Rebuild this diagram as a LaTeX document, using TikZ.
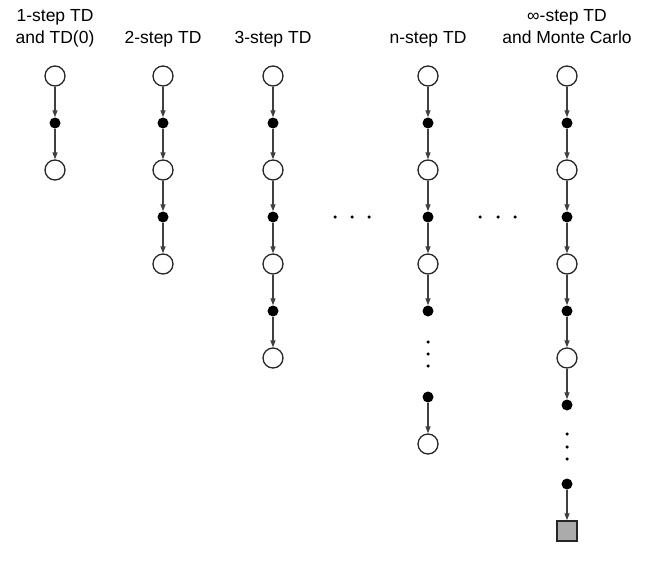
\documentclass[tikz,border=0pt]{standalone}
\usepackage{fontspec}
\setmainfont{Liberation Sans}
\usetikzlibrary{arrows.meta}
\begin{document}
\begin{tikzpicture}[x=1pt,y=-1pt,
  state/.style={circle, draw=black!85, line width=1.3pt, minimum size=20pt, inner sep=0pt, fill=white},
  action/.style={circle, fill=black, minimum size=11pt, inner sep=0pt},
  term/.style={rectangle, draw=black!85, line width=1.5pt, fill=black!33, minimum size=20pt, inner sep=0pt},
  edge/.style={-{Triangle[length=7pt,width=5pt]}, line width=1.3pt, draw=black!75},
  dotty/.style={circle, fill=black, minimum size=3.5pt, inner sep=0pt},
  lbl/.style={font=\fontsize{17.5}{22}\selectfont, align=center, anchor=base, inner sep=0pt}]
\useasboundingbox (0,0) rectangle (652,586);
% labels
\node[lbl] (l1) at (55,44) {1-step TD\\and TD(0)};
\node[lbl] (l2) at (163,44) {2-step TD};
\node[lbl] (l3) at (273,44) {3-step TD};
\node[lbl] (l4) at (428,44) {n-step TD};
\node[lbl] (l5) at (567,44) {∞-step TD\\and Monte Carlo};
% regular columns: x, number of steps
\foreach \c/\x/\n in {1/55/1, 2/163/2, 3/273/3} {
  \node[state] (s\c-0) at (\x,76) {};
  \foreach \i [evaluate=\i as \yy using 76+94*\i, evaluate=\i as \ya using 76+94*\i-47, evaluate=\i as \p using int(\i-1)] in {1,...,\n} {
    \node[action] (a\c-\i) at (\x,\ya) {};
    \node[state] (s\c-\i) at (\x,\yy) {};
    \draw[edge] (s\c-\p) -- (a\c-\i);
    \draw[edge] (a\c-\i) -- (s\c-\i);
  }
}
% n-step column
\node[state] (s4-0) at (428,76) {};
\foreach \i [evaluate=\i as \yy using 76+94*\i, evaluate=\i as \ya using 76+94*\i-47, evaluate=\i as \p using int(\i-1)] in {1,2} {
  \node[action] (a4-\i) at (428,\ya) {};
  \node[state] (s4-\i) at (428,\yy) {};
  \draw[edge] (s4-\p) -- (a4-\i);
  \draw[edge] (a4-\i) -- (s4-\i);
}
\node[action] (a4-3) at (428,311) {};
\draw[edge] (s4-2) -- (a4-3);
\node[dotty] (d4-1) at (428,342) {};
\node[dotty] (d4-2) at (428,354) {};
\node[dotty] (d4-3) at (428,366) {};
\node[action] (a4-n) at (428,397) {};
\node[state] (s4-n) at (428,444) {};
\draw[edge] (a4-n) -- (s4-n);
% infinity column
\node[state] (s5-0) at (567,76) {};
\foreach \i [evaluate=\i as \yy using 76+94*\i, evaluate=\i as \ya using 76+94*\i-47, evaluate=\i as \p using int(\i-1)] in {1,2,3} {
  \node[action] (a5-\i) at (567,\ya) {};
  \node[state] (s5-\i) at (567,\yy) {};
  \draw[edge] (s5-\p) -- (a5-\i);
  \draw[edge] (a5-\i) -- (s5-\i);
}
\node[action] (a5-4) at (567,405) {};
\draw[edge] (s5-3) -- (a5-4);
\node[dotty] (d5-1) at (567,434) {};
\node[dotty] (d5-2) at (567,447) {};
\node[dotty] (d5-3) at (567,459) {};
\node[action] (a5-n) at (567,484) {};
\node[term] (t5) at (567,531) {};
\draw[edge] (a5-n) -- (t5);
% horizontal ellipses
\foreach \k/\x in {1/335, 2/352, 3/369, 4/480, 5/498, 6/515}
  \node[dotty] (h\k) at (\x,217) {};
\end{tikzpicture}
\end{document}
